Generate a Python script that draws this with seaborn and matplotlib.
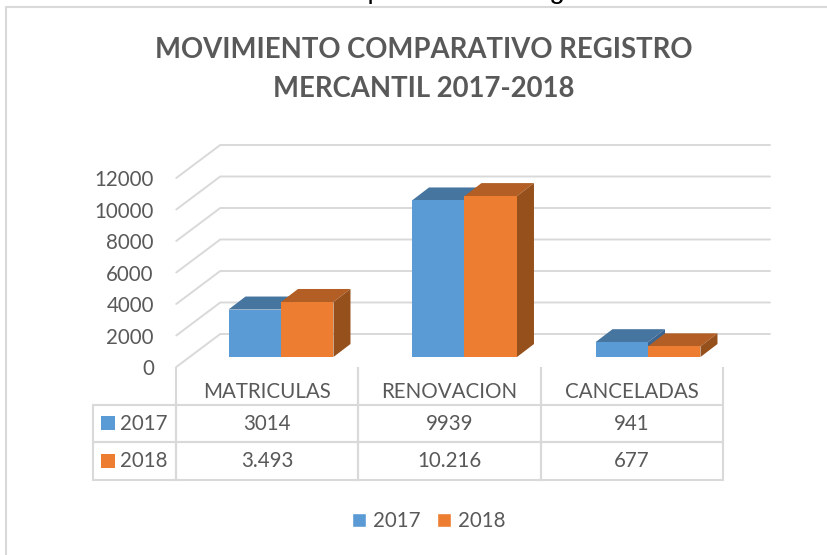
import matplotlib
matplotlib.use('Agg')
import matplotlib.pyplot as plt
from matplotlib.patches import Polygon, Rectangle
from matplotlib.lines import Line2D
import pandas as pd
import seaborn as sns

categories = ['MATRICULAS', 'RENOVACION', 'CANCELADAS']
years = ['2017', '2018']
values_2017 = [3014, 9939, 941]
values_2018 = [3493, 10216, 677]
table_2017 = ['3014', '9939', '941']
table_2018 = ['3.493', '10.216', '677']
y_ticks = [0, 2000, 4000, 6000, 8000, 10000, 12000]
title = 'MOVIMIENTO COMPARATIVO REGISTRO\nMERCANTIL 2017-2018'
cut_text = 'Cuadro Movimiento Comparativo de Registro Mercantil'

W, H = 828, 555
GRAY = '#d9d9d9'
TEXT = '#595959'
FRONT = {'2017': '#5b9bd5', '2018': '#ed7d31'}
TOP = {'2017': '#4675a0', '2018': '#b25e24'}
SIDE = {'2017': '#3c6690', '2018': '#95501c'}

sns.set_theme(style='white')
plt.rcParams['font.family'] = ['Lato', 'DejaVu Sans']
FS = 14.8


# box in image pixels (y down) to figure fractions
def px_box(left, right, top, bottom):
    return [left / W, 1 - bottom / H, (right - left) / W, (bottom - top) / H]


df = pd.DataFrame({
    'categoria': categories * 2,
    'anio': [years[0]] * 3 + [years[1]] * 3,
    'valor': values_2017 + values_2018,
})

fig = plt.figure(figsize=(W / 100, H / 100), dpi=100)

# front plane carries the axis labels and the data table
plot_h = 12000 * 0.01575
front = fig.add_axes(px_box(176, 723, 367 - plot_h, 367))
front.set_xlim(-0.5, 2.5)
front.set_ylim(0, 12000)
front.set_xticks(range(3), categories, fontsize=FS, color=TEXT)
front.set_yticks(y_ticks, [str(t) for t in y_ticks], fontsize=FS, color=TEXT)
front.tick_params(axis='x', length=0, pad=10.7)
front.tick_params(axis='y', length=0, pad=16)
sns.despine(ax=front, left=True, bottom=True)
front.patch.set_visible(False)

rows = [['', '', '', ''],
        ['2017'] + table_2017,
        ['2018'] + table_2018]
tb = front.table(cellText=rows, colWidths=[83 / 630, 182 / 630, 182 / 630, 182 / 630],
                 cellLoc='center',
                 bbox=[-83 / 547, -113 / plot_h, 630 / 547, 113 / plot_h])
tb.auto_set_font_size(False)
tb.set_fontsize(FS)
for (r, c), cell in tb.get_celld().items():
    cell.set_edgecolor(GRAY)
    cell.set_linewidth(1.5)
    cell.get_text().set_color(TEXT)
    cell.set_facecolor('none')
    if r == 0:
        cell.visible_edges = 'open' if c == 0 else 'LR'
    if c == 0 and r > 0:
        cell.get_text().set_horizontalalignment('right')
        cell._loc = 'right'

# bar plane, sits a bit behind the front plane
ax = fig.add_axes(px_box(189.25, 739.75, 357 - plot_h, 357))
sns.barplot(data=df, x='categoria', y='valor', hue='anio', palette=FRONT,
            order=categories, hue_order=years, width=0.572, gap=0, saturation=1,
            ax=ax, zorder=4)
ax.set_xlim(-0.5, 2.5)
ax.set_ylim(0, 12000)
ax.set_xlabel('')
ax.set_ylabel('')
ax.set_xticks([])
ax.set_yticks([])
ax.patch.set_visible(False)
sns.despine(ax=ax, left=True, bottom=True)

# pixels to data units on the bar plane
ux = 3 / 550.5
uy = 12000 / plot_h

# wall grid lines
for t in y_ticks:
    ax.plot([-0.5 - 13 * ux, -0.5 + 31 * ux, -0.5 + (770 - 189.25) * ux],
            [t - 10 * uy, t + 23 * uy, t + 23 * uy],
            color=GRAY, lw=1.4, clip_on=False, zorder=1, solid_joinstyle='miter')

# 3D top and side of every bar
dx, dy = 17 * ux, 13 * uy
for i, (year, cont) in enumerate(zip(years, ax.containers)):
    for bar in cont:
        x0 = bar.get_x()
        x1 = x0 + bar.get_width()
        h = bar.get_height()
        bar.set_zorder(4 + 2 * i)
        bar.set_edgecolor('none')
        ax.add_patch(Polygon([(x0, h), (x1, h), (x1 + dx, h + dy), (x0 + dx, h + dy)],
                             facecolor=TOP[year], edgecolor='none', clip_on=False, zorder=3 + 2 * i))
        ax.add_patch(Polygon([(x1, 0), (x1 + dx, dy), (x1 + dx, h + dy), (x1, h)],
                             facecolor=SIDE[year], edgecolor='none', clip_on=False, zorder=3 + 2 * i))

# legend under the table
handles, labels = ax.get_legend_handles_labels()
ax.get_legend().remove()
fig.legend(handles, labels, loc='center', bbox_to_anchor=(428.5 / W, 1 - 521 / H), ncol=2,
           frameon=False, fontsize=FS, labelcolor=TEXT, handlelength=0.68, handleheight=0.68,
           handletextpad=0.35, columnspacing=0.8)

# small swatches in the table row labels
for year, top in zip(years, [416, 454]):
    fig.add_artist(Rectangle((101 / W, 1 - (top + 14) / H), 14 / W, 14 / H,
                             transform=fig.transFigure, facecolor=FRONT[year], edgecolor='none'))

# chart frame
fig.add_artist(Line2D([6 / W, 6 / W, 1], [0, 1 - 6.5 / H, 1 - 6.5 / H], color=GRAY, lw=1.5))

fig.suptitle(title, x=424 / W, y=1 - 69.5 / H, va='center', ha='center', fontsize=19.8,
             fontweight='bold', color=TEXT, linespacing=1.6)

# line of the document text that is cut off at the top of the picture
fig.text(58 / W, 1 + 2.2 / H, cut_text, fontsize=20.2, family='Liberation Sans', color='black',
         va='baseline', ha='left')

fig.savefig('out.png', dpi=100)
